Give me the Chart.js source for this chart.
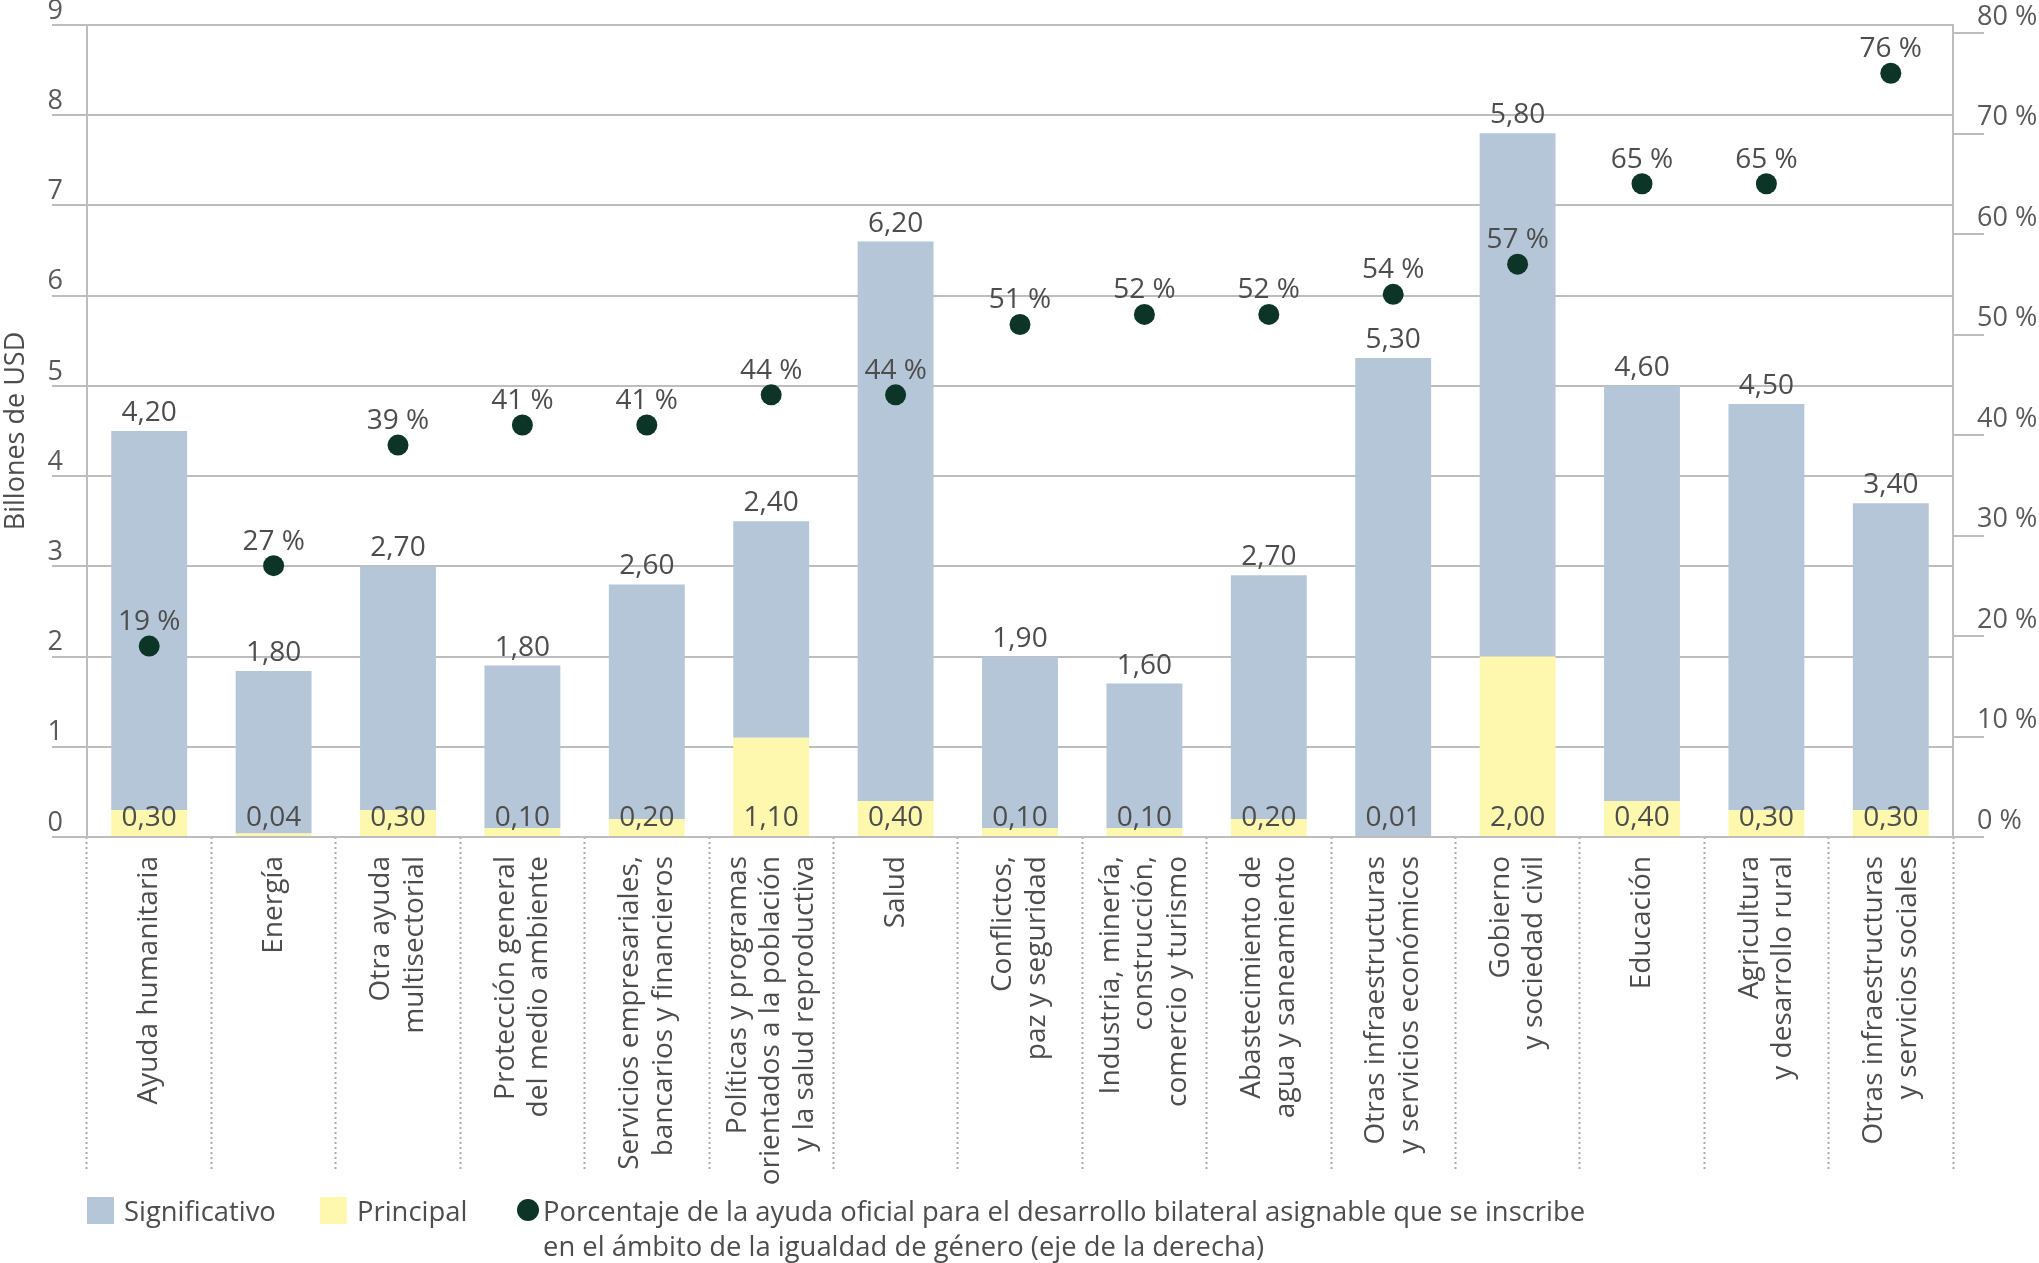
<!DOCTYPE html>
<html><head><meta charset="utf-8">
<script src="https://cdn.jsdelivr.net/npm/chart.js@4.4.1/dist/chart.umd.min.js"></script>
<style>
html,body{margin:0;padding:0;background:#fff;}
#wrap{position:relative;width:2039px;height:1263px;overflow:hidden;font-family:'Open Sans',sans-serif;color:#4d4d4d;}
canvas{position:absolute;left:0;top:0;}
.lg{position:absolute;font-size:27.4px;line-height:35px;white-space:nowrap;}
.sw{position:absolute;width:27px;height:27px;}
.dot{position:absolute;width:22px;height:22px;border-radius:50%;background:#0c3528;}
</style></head>
<body><div id="wrap"><canvas id="c" width="2039" height="1263"></canvas>
<div class="sw" style="left:87px;top:1197px;background:#b4c6d8"></div>
<div class="lg" style="left:124px;top:1193px">Significativo</div>
<div class="sw" style="left:320px;top:1197px;background:#fdf8ad"></div>
<div class="lg" style="left:357px;top:1193px">Principal</div>
<div class="dot" style="left:517px;top:1199px"></div>
<div class="lg" style="left:543px;top:1193px">Porcentaje de la ayuda oficial para el desarrollo bilateral asignable que se inscribe<br>en el ámbito de la igualdad de género (eje de la derecha)</div>
</div>
<script>
const categories = [
  ['Ayuda humanitaria'],
  ['Energía'],
  ['Otra ayuda', 'multisectorial'],
  ['Protección general', 'del medio ambiente'],
  ['Servicios empresariales,', 'bancarios y financieros'],
  ['Políticas y programas', 'orientados a la población', 'y la salud reproductiva'],
  ['Salud'],
  ['Conflictos,', 'paz y seguridad'],
  ['Industria, minería,', 'construcción,', 'comercio y turismo'],
  ['Abastecimiento de', 'agua y saneamiento'],
  ['Otras infraestructuras', 'y servicios económicos'],
  ['Gobierno', 'y sociedad civil'],
  ['Educación'],
  ['Agricultura', 'y desarrollo rural'],
  ['Otras infraestructuras', 'y servicios sociales']
];
const significativo = [4.20, 1.80, 2.70, 1.80, 2.60, 2.40, 6.20, 1.90, 1.60, 2.70, 5.30, 5.80, 4.60, 4.50, 3.40];
const principal = [0.30, 0.04, 0.30, 0.10, 0.20, 1.10, 0.40, 0.10, 0.10, 0.20, 0.01, 2.00, 0.40, 0.30, 0.30];
const porcentaje = [19, 27, 39, 41, 41, 44, 44, 51, 52, 52, 54, 57, 65, 65, 76];
const yTicks = [0, 1, 2, 3, 4, 5, 6, 7, 8, 9];
const y2Ticks = [0, 10, 20, 30, 40, 50, 60, 70, 80];

const FONT = "'Open Sans', sans-serif";
const TXT = '#4d4d4d';
const AXIS = '#5a5a5a';
const GRID = '#bdbdbd';
const fmt = v => v.toFixed(2).replace('.', ',');
const pct = v => v + ' %';

const labelPlugin = {
  id: 'valueLabels',
  afterDatasetsDraw(chart) {
    const ctx = chart.ctx;
    ctx.save();
    ctx.font = '28px ' + FONT;
    ctx.fillStyle = TXT;
    ctx.textAlign = 'center';
    ctx.textBaseline = 'alphabetic';
    const mP = chart.getDatasetMeta(0), mS = chart.getDatasetMeta(1), mD = chart.getDatasetMeta(2);
    mS.data.forEach((b, i) => ctx.fillText(fmt(significativo[i]), b.x, b.y - 10));
    mP.data.forEach((b, i) => ctx.fillText(fmt(principal[i]), b.x, b.base - 10));
    mD.data.forEach((p, i) => ctx.fillText(pct(porcentaje[i]), p.x, p.y - 16));
    const xs = chart.scales.x;
    const top = xs.top + 19;
    const lh = 33.5;
    categories.forEach((lines, i) => {
      const cx = xs.getPixelForValue(i);
      lines.forEach((ln, j) => {
        const x = cx + (j - (lines.length - 1) / 2) * lh;
        ctx.save();
        ctx.translate(x, top);
        ctx.rotate(-Math.PI / 2);
        ctx.textAlign = 'right';
        ctx.textBaseline = 'middle';
        ctx.fillText(ln, 0, 0);
        ctx.restore();
      });
    });
    ctx.restore();
  }
};

Chart.defaults.font.family = FONT;
Chart.defaults.font.size = 27;
Chart.defaults.color = AXIS;

new Chart(document.getElementById('c'), {
  type: 'bar',
  data: {
    labels: categories,
    datasets: [
      { label: 'Principal', data: principal, backgroundColor: '#fdf8ad', borderWidth: 0, order: 1,
        barPercentage: 0.61, categoryPercentage: 1.0, yAxisID: 'y' },
      { label: 'Significativo', data: significativo, backgroundColor: '#b4c6d8', borderWidth: 0, order: 1,
        barPercentage: 0.61, categoryPercentage: 1.0, yAxisID: 'y' },
      { type: 'line', label: 'Porcentaje', data: porcentaje, yAxisID: 'y2', showLine: false, order: 0,
        pointRadius: 10.5, pointBackgroundColor: '#0c3528', pointBorderWidth: 0, pointHoverRadius: 10.5 }
    ]
  },
  options: {
    responsive: false,
    animation: false,
    devicePixelRatio: 1,
    layout: { padding: { top: 25, left: 0, right: 0, bottom: 0 } },
    plugins: { legend: { display: false }, tooltip: { enabled: false } },
    scales: {
      x: {
        stacked: true,
        offset: true,
        ticks: { display: false },
        grid: { display: true, offset: true, drawOnChartArea: false, drawTicks: true, tickLength: 333,
                tickColor: '#ababab', tickWidth: 2, tickBorderDash: [2, 3] },
        border: { display: false },
        afterFit(s) { s.height = 426; }
      },
      y: {
        position: 'left',
        stacked: true,
        min: 0, max: 9,
        afterBuildTicks(s) { s.ticks = yTicks.map(v => ({ value: v })); },
        ticks: { padding: -11, labelOffset: -14, color: AXIS, font: { size: 27 } },
        grid: { color: GRID, lineWidth: 2, tickLength: 35, drawTicks: true },
        border: { display: true, color: GRID, width: 2 },
        title: { display: true, text: 'Billones de USD', color: TXT, font: { size: 27 }, padding: 0 },
        afterFit(s) { s.width = 87; }
      },
      y2: {
        position: 'right',
        min: 0, max: 80.8,
        afterBuildTicks(s) { s.ticks = y2Ticks.map(v => ({ value: v })); },
        ticks: { padding: -7, labelOffset: -16, color: AXIS, font: { size: 27 }, callback: v => pct(v) },
        grid: { drawOnChartArea: false, color: GRID, lineWidth: 2, tickLength: 31, drawTicks: true },
        border: { display: true, color: GRID, width: 2 },
        afterFit(s) { s.width = 86; }
      }
    }
  },
  plugins: [labelPlugin]
});
</script>
</body></html>
